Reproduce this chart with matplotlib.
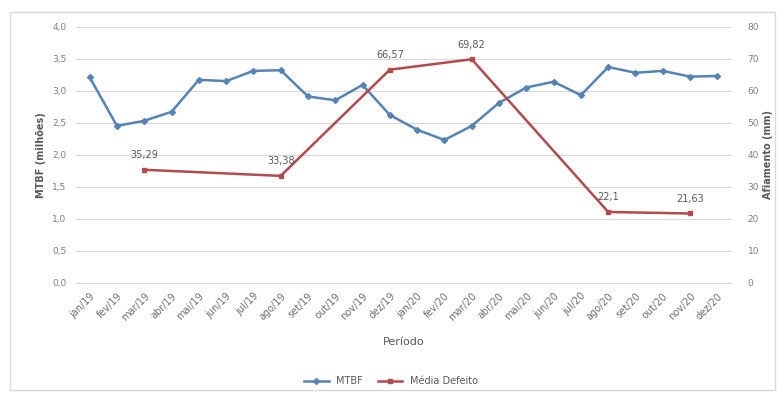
import numpy as np
import matplotlib
matplotlib.use("Agg")
import matplotlib.pyplot as plt
from matplotlib.patches import Rectangle

meses = ["jan/19", "fev/19", "mar/19", "abr/19", "mai/19", "jun/19", "jul/19", "ago/19",
         "set/19", "out/19", "nov/19", "dez/19", "jan/20", "fev/20", "mar/20", "abr/20",
         "mai/20", "jun/20", "jul/20", "ago/20", "set/20", "out/20", "nov/20", "dez/20"]

mtbf = [3.21, 2.45, 2.53, 2.67, 3.17, 3.15, 3.31, 3.32, 2.91, 2.85, 3.09, 2.62,
        2.39, 2.23, 2.45, 2.81, 3.05, 3.14, 2.93, 3.37, 3.28, 3.31, 3.22, 3.23]

defeito_meses = ["mar/19", "ago/19", "dez/19", "mar/20", "ago/20", "nov/20"]
defeito = [35.29, 33.38, 66.57, 69.82, 22.1, 21.63]
defeito_rotulos = ["35,29", "33,38", "66,57", "69,82", "22,1", "21,63"]

left_ticks = [0.0, 0.5, 1.0, 1.5, 2.0, 2.5, 3.0, 3.5, 4.0]
right_ticks = [0, 10, 20, 30, 40, 50, 60, 70, 80]

azul = "#5683b3"
vermelho = "#b14b4f"
cinza_txt = "#7f7f7f"

fig = plt.figure(figsize=(7.82, 3.94), dpi=100)
fig.patch.set_facecolor("white")

# outer chart frame
fig.patches.append(Rectangle((10 / 782, 4 / 394), 765 / 782, 378 / 394,
                             transform=fig.transFigure, fill=False,
                             edgecolor="#d9d9d9", linewidth=1.0))

ax = fig.add_axes([76 / 782, 1 - 282.7 / 394, 655 / 782, 256 / 394])
ax2 = ax.twinx()

x = np.arange(len(meses))
xd = [meses.index(m) for m in defeito_meses]

ax.set_ylim(0, 4.0)
ax.set_yticks(left_ticks)
ax.set_yticklabels([f"{v:.1f}".replace(".", ",") for v in left_ticks])
ax2.set_ylim(0, 80)
ax2.set_yticks(right_ticks)
ax2.set_yticklabels([str(v) for v in right_ticks])
ax.set_xlim(-0.5, len(meses) - 0.5)
ax.set_xticks(x)
ax.set_xticklabels(meses, rotation=45, ha="right", rotation_mode="anchor")

ax.grid(axis="y", color="#d9d9d9", linewidth=0.9)
ax.set_axisbelow(True)
for a in (ax, ax2):
    for s in a.spines.values():
        s.set_visible(False)
    a.tick_params(length=0, labelsize=6.5, labelcolor=cinza_txt)
ax.spines["bottom"].set_visible(True)
ax.spines["bottom"].set_color("#d9d9d9")
ax.tick_params(axis="x", pad=6, labelsize=7, labelcolor="#6f6f6f")
ax.tick_params(axis="y", pad=7)
ax2.tick_params(axis="y", pad=12)

l1, = ax.plot(x, mtbf, color=azul, linewidth=1.8, marker="D", markersize=3,
              label="MTBF", zorder=3)
l2, = ax2.plot(xd, defeito, color=vermelho, linewidth=1.8, marker="s", markersize=3.5,
               label="Média Defeito", zorder=3)

for xi, v, t in zip(xd, defeito, defeito_rotulos):
    ax2.annotate(t, (xi, v), xytext=(0, 7), textcoords="offset points",
                 ha="center", va="bottom", fontsize=7, color="#595959")

ax.set_ylabel("MTBF (milhões)", fontsize=7, color="#595959", fontweight="bold", labelpad=4)
ax2.set_ylabel("Afiamento (mm)", fontsize=7, color="#595959", fontweight="bold", labelpad=3)
ax.set_xlabel("Período", fontsize=8, color="#595959", labelpad=10)

fig.legend(handles=[l1, l2], loc="center", bbox_to_anchor=(0.5, 1 - 381 / 394),
           ncol=2, frameon=False, fontsize=7, labelcolor="#595959",
           handlelength=2.5, columnspacing=1.5)

fig.savefig("out.png", dpi=100, facecolor="white")
